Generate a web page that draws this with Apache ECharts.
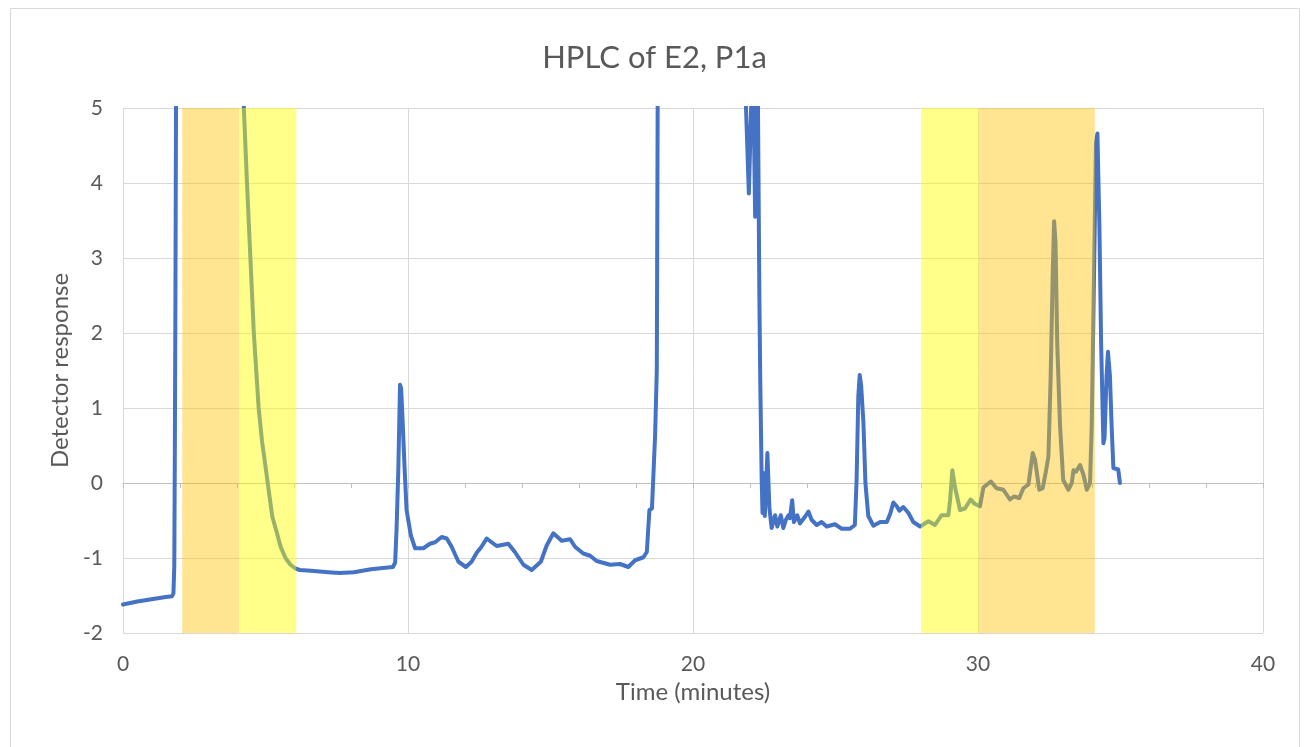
<!DOCTYPE html>
<html>
<head>
<meta charset="UTF-8">
<title>HPLC of E2, P1a</title>
<script src="https://cdn.jsdelivr.net/npm/echarts@6/dist/echarts.min.js"></script>
<style>
    html, body { margin: 0; padding: 0; background: #fff; }
    #main { width: 1309px; height: 747px; }
</style>
</head>
<body>
<div id="main"></div>
<script>
    // time (min) and detector response; 9 = off the top of the plot
    var time = [
        0, 0.5, 1.0, 1.5, 1.72, 1.77, 1.80, 1.82, 1.84, 1.86, 1.88,
        4.20, 4.24, 4.35, 4.47, 4.59, 4.76, 4.88, 5.0, 5.12, 5.24, 5.39, 5.53, 5.70, 5.88, 6.05, 6.2, 6.6, 7.2, 7.6, 8.1, 8.7, 9.2,
        9.47, 9.55, 9.6, 9.66, 9.72, 9.76, 9.81, 9.88, 9.95, 10.1, 10.25, 10.54, 10.77, 10.95, 11.18, 11.36, 11.53, 11.77,
        12.03, 12.23, 12.41, 12.58, 12.76, 13.11, 13.52, 13.75, 14.05, 14.34, 14.66, 14.87, 15.1, 15.39, 15.69, 15.86,
        16.15, 16.39, 16.62, 17.09, 17.44, 17.73, 17.97, 18.26, 18.38, 18.47, 18.56, 18.63, 18.67, 18.73, 18.76, 18.78,
        21.82, 21.86, 21.96, 22.04, 22.08, 22.13, 22.18, 22.22, 22.25, 22.28, 22.33, 22.36, 22.41, 22.44, 22.49, 22.52,
        22.61, 22.68, 22.76, 22.88, 22.96, 23.08, 23.17, 23.26, 23.35, 23.40, 23.48, 23.54, 23.66, 23.75, 23.93, 24.05,
        24.16, 24.34, 24.51, 24.69, 24.98, 25.22, 25.51, 25.68, 25.74, 25.80, 25.85, 25.9, 25.98, 26.05, 26.15, 26.33,
        26.57, 26.80, 26.92, 27.03, 27.15, 27.24, 27.38, 27.56, 27.73, 27.97, 28.26, 28.49, 28.72, 28.96, 29.02, 29.10,
        29.19, 29.37, 29.54, 29.74, 29.89, 30.07, 30.19, 30.45, 30.65, 30.89, 31.12, 31.26, 31.45, 31.59, 31.77, 31.92,
        32.0, 32.15, 32.27, 32.39, 32.47, 32.55, 32.62, 32.67, 32.72, 32.78, 32.88, 32.99, 33.17, 33.29, 33.35, 33.44,
        33.58, 33.70, 33.82, 33.93, 33.99, 34.07, 34.14, 34.19, 34.26, 34.32, 34.40, 34.44, 34.51, 34.56, 34.63, 34.69,
        34.75, 34.92, 34.98
    ];
    var response = [
        -1.62, -1.58, -1.55, -1.52, -1.51, -1.47, -1.1, 0.5, 2.5, 5, 9,
        9, 5, 4, 3, 2, 1, 0.55, 0.22, -0.12, -0.45, -0.65, -0.85, -1.0, -1.09, -1.14, -1.16, -1.17, -1.19, -1.20, -1.19, -1.15, -1.13,
        -1.12, -1.06, -0.6, 0.17, 1.31, 1.26, 0.84, 0.2, -0.36, -0.7, -0.87, -0.87, -0.81, -0.79, -0.72, -0.74, -0.85, -1.05,
        -1.12, -1.05, -0.93, -0.85, -0.74, -0.84, -0.81, -0.92, -1.09, -1.16, -1.05, -0.83, -0.67, -0.77, -0.75, -0.85,
        -0.94, -0.97, -1.04, -1.09, -1.08, -1.12, -1.03, -0.99, -0.92, -0.36, -0.34, -0.34, 0.63, 1.51, 5, 9,
        9, 5, 3.86, 5, 9, 5, 3.55, 5, 9, 5, 2.44, 1.37, 0.04, -0.40, 0.13, -0.44,
        0.40, -0.33, -0.60, -0.43, -0.58, -0.43, -0.60, -0.49, -0.43, -0.47, -0.23, -0.52, -0.43, -0.54, -0.45, -0.38,
        -0.49, -0.56, -0.52, -0.58, -0.55, -0.61, -0.61, -0.56, 0.04, 1.15, 1.44, 1.3, 0.8, 0.0, -0.44, -0.57,
        -0.52, -0.52, -0.41, -0.26, -0.31, -0.37, -0.32, -0.40, -0.52, -0.58, -0.51, -0.56, -0.43, -0.43, -0.23, 0.17,
        -0.05, -0.36, -0.34, -0.22, -0.28, -0.31, -0.06, 0.02, -0.07, -0.09, -0.22, -0.18, -0.20, -0.07, -0.02, 0.40,
        0.31, -0.09, -0.07, 0.17, 0.35, 1.42, 2.75, 3.49, 3.2, 1.86, 0.75, 0.04, -0.09, 0.0, 0.17, 0.15,
        0.24, 0.11, -0.09, 0.0, 0.75, 2.75, 4.53, 4.66, 3.42, 1.86, 0.53, 0.6, 1.42, 1.75, 1.42, 0.75,
        0.2, 0.18, 0.0
    ];

    // shaded collection windows (minutes)
    var orangeBands = [[2.08, 4.07], [30.03, 34.1]];
    var yellowBands = [[4.07, 6.08], [28.0, 30.03]];

    var xTicks = [0, 10, 20, 30, 40];
    var yTicks = [-2, -1, 0, 1, 2, 3, 4, 5];

    var points = [];
    for (var i = 0; i < time.length; i++) {
        points.push([time[i], response[i]]);
    }

    var bands = [];
    orangeBands.forEach(function (b) {
        bands.push([{ xAxis: b[0], itemStyle: { color: 'rgba(255,192,0,0.43)' } }, { xAxis: b[1] }]);
    });
    yellowBands.forEach(function (b) {
        bands.push([{ xAxis: b[0], itemStyle: { color: 'rgba(255,255,0,0.46)' } }, { xAxis: b[1] }]);
    });

    var mychart = echarts.init(document.getElementById('main'));
    var font = 'Lato, "Open Sans", sans-serif';

    option = {
        backgroundColor: '#ffffff',
        animation: false,
        textStyle: { fontFamily: font },
        graphic: [{
            type: 'rect',
            shape: { x: 10.5, y: 8.5, width: 1289, height: 760 },
            style: { fill: 'none', stroke: '#d9d9d9', lineWidth: 1 },
            silent: true
        }],
        title: {
            text: 'HPLC of E2, P1a',
            left: 'center',
            top: 37,
            textStyle: { fontFamily: font, fontSize: 31, fontWeight: 'normal', color: '#595959' }
        },
        grid: {
            left: 123,
            right: 46,
            top: 108,
            bottom: 114
        },
        xAxis: {
            type: 'value',
            min: xTicks[0],
            max: xTicks[xTicks.length - 1],
            interval: 10,
            name: 'Time (minutes)',
            nameLocation: 'middle',
            nameGap: 46,
            nameTextStyle: { fontFamily: font, fontSize: 24, color: '#595959' },
            axisLine: { show: true, lineStyle: { color: '#bfbfbf', width: 1 } },
            axisTick: { show: true, length: 5, lineStyle: { color: '#bfbfbf' } },
            minorTick: { show: true, splitNumber: 5, length: 5, lineStyle: { color: '#bfbfbf' } },
            axisLabel: { margin: 21, fontSize: 21, color: '#595959', fontFamily: font },
            splitLine: { show: true, lineStyle: { color: '#d9d9d9', width: 1 } }
        },
        yAxis: {
            type: 'value',
            min: yTicks[0],
            max: yTicks[yTicks.length - 1],
            interval: 1,
            name: 'Detector response',
            nameLocation: 'middle',
            nameGap: 50,
            nameRotate: 90,
            nameTextStyle: { fontFamily: font, fontSize: 24, color: '#595959' },
            axisLine: { show: false },
            axisTick: { show: false },
            axisLabel: { margin: 20, fontSize: 21, color: '#595959', fontFamily: font },
            splitLine: { show: true, lineStyle: { color: '#d9d9d9', width: 1 } }
        },
        series: [
            {
                name: 'trace',
                type: 'line',
                data: points,
                showSymbol: false,
                clip: true,
                z: 3,
                lineStyle: { color: '#4472c4', width: 4, join: 'round', cap: 'round' }
            },
            {
                name: 'windows',
                type: 'line',
                data: [],
                z: 10,
                markArea: {
                    silent: true,
                    z: 10,
                    data: bands
                }
            }
        ]
    };
    mychart.setOption(option);
</script>
</body>
</html>
